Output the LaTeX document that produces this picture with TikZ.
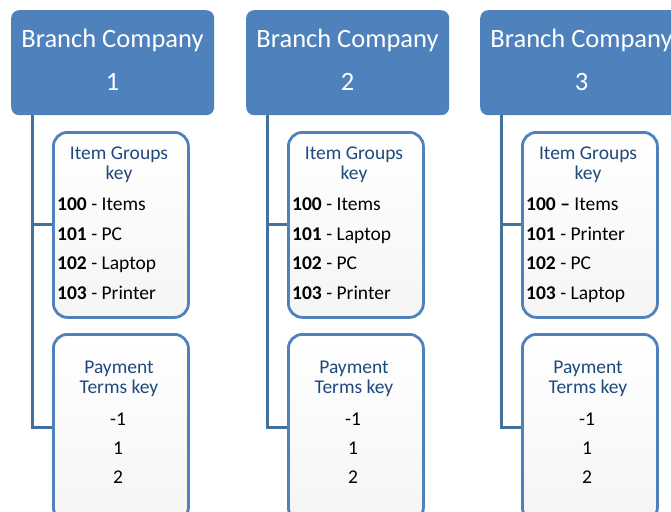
\documentclass[tikz,border=0pt]{standalone}
\usepackage{fontspec}
\setmainfont{Carlito}
\definecolor{hdr}{HTML}{4F81BD}
\definecolor{edgeblue}{HTML}{4F81BD}
\definecolor{connblue}{HTML}{41719C}
\definecolor{ttlblue}{HTML}{1F497D}
\tikzset{
  hdrbox/.style={fill=hdr, rounded corners=8pt, draw=none, inner sep=0pt},
  keybox/.style={draw=edgeblue, line width=2.8pt, rounded corners=14pt, top color=white, bottom color=black!4, inner sep=0pt},
  connline/.style={draw=connblue, line width=3pt},
  hdrtext/.style={text=white, font=\fontsize{26.5}{30}\selectfont, anchor=base, inner sep=0pt},
  keytitle/.style={text=ttlblue, font=\fontsize{19.5}{20}\selectfont, anchor=base, inner sep=0pt},
  listtext/.style={text=black, font=\fontsize{19.5}{20}\selectfont, inner sep=0pt},
}
\newcommand\branchcol[6]{%
  \begin{scope}[xshift=#1pt]
    \node[hdrbox, anchor=north west, minimum width=203pt, minimum height=105pt] (h#2) at (11,10) {};
    \node[hdrtext] (ha#2) at (112.5,47.7) {Branch Company};
    \node[hdrtext] (hb#2) at (112.5,90.7) {#2};
    \node[keybox, anchor=north west, minimum width=135pt, minimum height=185pt] (k#2) at (52,131) {};
    \node[keybox, anchor=north west, minimum width=135pt, minimum height=187pt] (p#2) at (52,333) {};
    \coordinate (s#2) at (32,115);
    \begin{pgfonlayer}{background}
      \draw[connline] (s#2) |- (k#2.west);
      \draw[connline] (s#2) |- (p#2.west);
    \end{pgfonlayer}
    \node[keytitle] (ka#2) at (119,159.3) {Item Groups};
    \node[keytitle] (kb#2) at (119,179.3) {key};
    \node[listtext, anchor=base west] (l1#2) at (57,210) {#3};
    \node[listtext, anchor=base west] (l2#2) at (57,240) {#4};
    \node[listtext, anchor=base west] (l3#2) at (57,269.5) {#5};
    \node[listtext, anchor=base west] (l4#2) at (57,299) {#6};
    \node[keytitle] (pa#2) at (119,373) {Payment};
    \node[keytitle] (pb#2) at (119,393) {Terms key};
    \node[listtext, anchor=base] (pc#2) at (118,425) {-1};
    \node[listtext, anchor=base] (pd#2) at (118,454) {1};
    \node[listtext, anchor=base] (pe#2) at (118,483) {2};
  \end{scope}}
\pgfdeclarelayer{background}
\pgfdeclarelayer{canvas}
\pgfsetlayers{canvas,background,main}
\begin{document}
\begin{tikzpicture}[x=1pt,y=-1pt]
  \useasboundingbox (0,0) rectangle (671,511);
  \clip (0,0) rectangle (671,511);
  \begin{pgfonlayer}{canvas}
    \fill[white] (0,0) rectangle (671,511);
  \end{pgfonlayer}
  \branchcol{0}{1}{\textbf{100} - Items}{\textbf{101} - PC}{\textbf{102} - Laptop}{\textbf{103} - Printer}
  \branchcol{235}{2}{\textbf{100} - Items}{\textbf{101} - Laptop}{\textbf{102} - PC}{\textbf{103} - Printer}
  \branchcol{469}{3}{\textbf{100 –} Items}{\textbf{101} - Printer}{\textbf{102} - PC}{\textbf{103} - Laptop}
\end{tikzpicture}
\end{document}
